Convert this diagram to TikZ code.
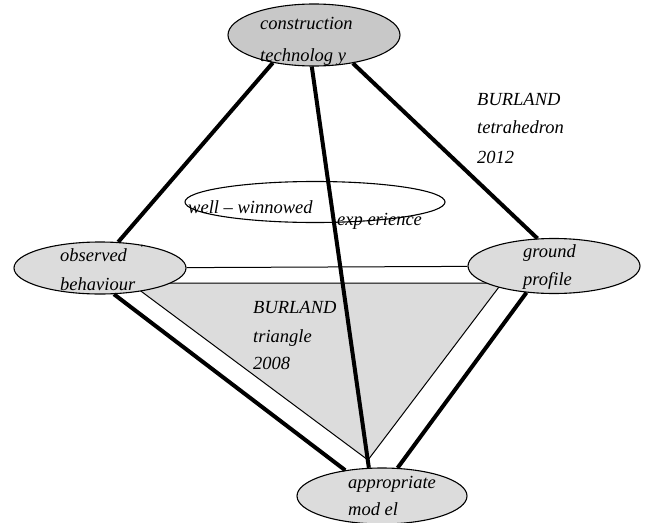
\documentclass[tikz,border=0pt]{standalone}
\usepackage{fontspec}
\setmainfont{Liberation Serif}
\usetikzlibrary{shapes.geometric}
\definecolor{darkfill}{RGB}{200,200,200}
\definecolor{lightfill}{RGB}{220,220,220}
\tikzset{
  oval/.style={ellipse, draw=black, line width=1.1pt, inner sep=0pt, fill=lightfill},
  thickline/.style={line width=4pt},
  thinline/.style={line width=1pt},
  lbl/.style={inner sep=0pt, anchor=base west, font=\fontsize{18.5}{22}\selectfont\itshape}
}
\begin{document}
\begin{tikzpicture}[x=1pt,y=-1pt]
\useasboundingbox (0,0) rectangle (645,522);
% BURLAND triangle
\filldraw[fill=lightfill, draw=black, thinline] (130,283) -- (502,283) -- (368,460) -- cycle;
% ellipses
\node[oval, fill=darkfill, minimum width=172pt, minimum height=62pt] (T) at (314,35) {};
\node[oval, minimum width=172pt, minimum height=52pt] (L) at (100,268) {};
\node[oval, minimum width=172pt, minimum height=55pt] (R) at (554,266) {};
\node[oval, minimum width=170pt, minimum height=56pt] (B) at (382,496) {};
\node[oval, fill=white, minimum width=260pt, minimum height=41pt] (W) at (315,202) {};
% connectors
\draw[thinline] (L) -- (R);
\draw[thickline] (T.214) -- (L.55);
\draw[thickline] (T.324) -- (R.121);
\draw[thickline] (T.266) -- (B.115);
\draw[thickline] (L.298) -- (B.145);
\draw[thickline] (R.224) -- (B.61);
% texts
\node[lbl] (t1) at (260,29) {construction};
\node[lbl] (t2) at (260,61) {technolog y};
\node[lbl] (l1) at (60,261) {observed};
\node[lbl] (l2) at (60,290) {behaviour};
\node[inner sep=0pt, font=\fontsize{5}{5}\selectfont] (lc) at (142,246) {c};
\node[lbl] (r1) at (523,257) {ground};
\node[lbl] (r2) at (523,285) {profile};
\node[lbl] (b1) at (348,488) {appropriate};
\node[lbl] (b2) at (348,515) {mod el};
\node[lbl] (w1) at (188,213) {well – winnowed};
\node[lbl] (w2) at (337,225) {exp erience};
\node[lbl] (k1) at (477,105) {BURLAND};
\node[lbl] (k2) at (477,133) {tetrahedron};
\node[lbl] (k3) at (477,163) {2012};
\node[lbl] (m1) at (253,313) {BURLAND};
\node[lbl] (m2) at (253,342) {triangle};
\node[lbl] (m3) at (253,369) {2008};
\end{tikzpicture}
\end{document}
